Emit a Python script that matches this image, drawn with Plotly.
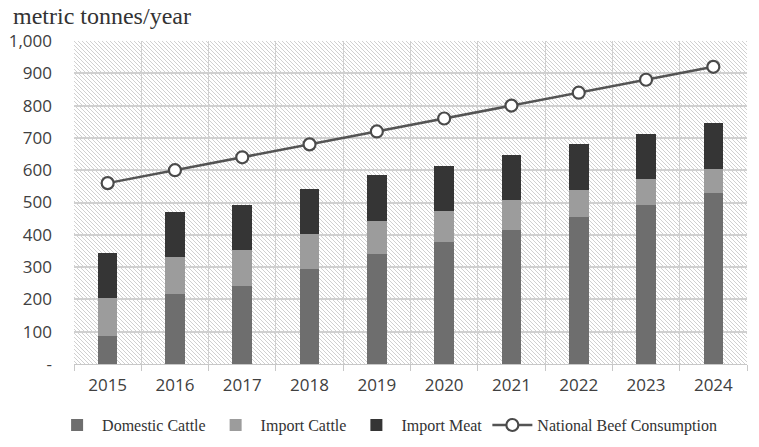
import base64
import plotly.graph_objects as go

years = ["2015", "2016", "2017", "2018", "2019", "2020", "2021", "2022", "2023", "2024"]
domestic_cattle = [86, 216, 241, 294, 342, 377, 414, 454, 492, 530]
import_cattle = [117, 114, 111, 108, 101, 97, 93, 86, 81, 75]
import_meat = [140, 140, 140, 140, 141, 140, 139, 141, 140, 140]
national_consumption = [560, 600, 640, 680, 720, 760, 800, 840, 880, 920]

y_tick_vals = [0, 100, 200, 300, 400, 500, 600, 700, 800, 900, 1000]
y_tick_text = ["-", "100", "200", "300", "400", "500", "600", "700", "800", "900", "1,000"]

W, H = 673, 323
svg = (
    f'<svg xmlns="http://www.w3.org/2000/svg" width="{W}" height="{H}" viewBox="0 0 {W} {H}" preserveAspectRatio="none">'
    '<defs><pattern id="p" width="4" height="4" patternUnits="userSpaceOnUse">'
    '<rect width="4" height="4" fill="#ffffff"/>'
    '<path d="M-1,-1 L5,5 M-1,3 L1,5 M3,-1 L5,1" stroke="#d0d0d0" stroke-width="1"/>'
    '</pattern></defs>'
    f'<rect width="{W}" height="{H}" fill="url(#p)"/></svg>'
)
src = "data:image/svg+xml;base64," + base64.b64encode(svg.encode()).decode()

fig = go.Figure()
fig.add_trace(go.Bar(x=years, y=domestic_cattle, name="Domestic Cattle",
                     marker=dict(color="#6e6e6e", line=dict(width=0)), width=0.29))
fig.add_trace(go.Bar(x=years, y=import_cattle, name="Import Cattle",
                     marker=dict(color="#9c9c9c", line=dict(width=0)), width=0.29))
fig.add_trace(go.Bar(x=years, y=import_meat, name="Import Meat",
                     marker=dict(color="#353535", line=dict(width=0)), width=0.29))
fig.add_trace(go.Scatter(x=years, y=national_consumption, name="National Beef Consumption",
                         mode="lines+markers",
                         line=dict(color="#545454", width=2.5),
                         marker=dict(symbol="circle", size=12, color="#ffffff",
                                     line=dict(color="#4a4a4a", width=2.2))))

fig.update_layout(
    barmode="stack",
    width=759, height=447,
    margin=dict(l=74, r=12, t=41, b=83, autoexpand=False),
    paper_bgcolor="#ffffff",
    plot_bgcolor="rgba(0,0,0,0)",
    images=[dict(source=src, xref="paper", yref="paper", x=0, y=1, sizex=1, sizey=1,
                 xanchor="left", yanchor="top", sizing="stretch", layer="below")],
    showlegend=True,
    legend=dict(orientation="h", xref="container", yref="container",
                x=0.51, xanchor="center", y=0.049, yanchor="middle",
                font=dict(family="Liberation Serif", size=16, color="#333333"),
                traceorder="normal", itemwidth=40),
    annotations=[dict(text="metric tonnes/year", xref="paper", yref="paper",
                      x=-0.094, y=1.077, xanchor="left", yanchor="middle", showarrow=False,
                      font=dict(family="Liberation Serif", size=24, color="#333333"))],
)
fig.update_xaxes(
    type="category", range=[-0.5, len(years) - 0.5],
    tickson="boundaries", showgrid=True, gridcolor="#d0d0d0", gridwidth=1,
    ticks="outside", ticklen=6, tickcolor="#c8c8c8", ticklabelstandoff=6,
    showline=True, linecolor="#c8c8c8", linewidth=1, automargin=False,
    tickfont=dict(family="Open Sans", size=17, color="#404040"),
)
fig.update_yaxes(
    range=[0, 1000], tickvals=y_tick_vals, ticktext=y_tick_text,
    showgrid=True, gridcolor="#d0d0d0", gridwidth=1.5, zeroline=False,
    ticks="", ticklabelstandoff=21, automargin=False,
    tickfont=dict(family="Open Sans", size=17, color="#404040"),
)

fig.write_html("out.html", config={"displayModeBar": False},
               post_script="document.body.style.margin='0';")
